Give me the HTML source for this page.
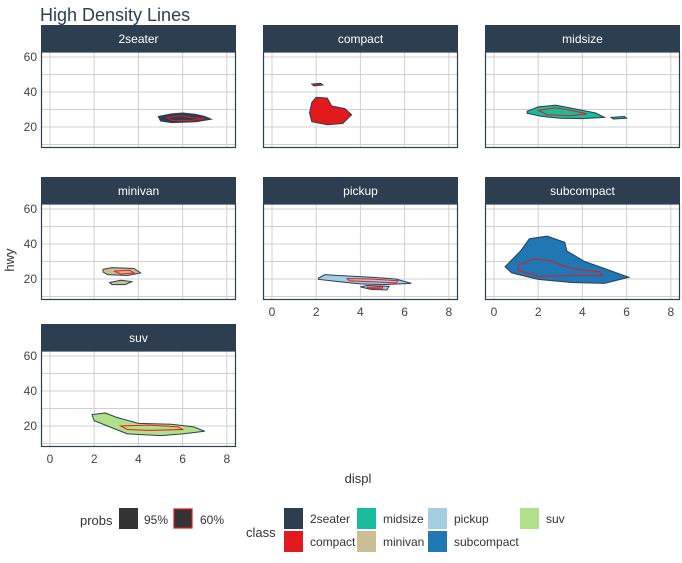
<!DOCTYPE html>
<html><head><meta charset="utf-8"><style>
body{margin:0;background:#fff;}
svg{display:block;font-family:"Liberation Sans",Arial,sans-serif;}
</style></head><body>
<svg id="chart" width="682" height="563">
<text x="40" y="21" font-size="18" fill="#2C3E50">High Density Lines</text>
<text x="358" y="483" font-size="13" fill="#333" text-anchor="middle">displ</text>
<text x="14" y="260" font-size="13" fill="#333" text-anchor="middle" transform="rotate(-90 14 260)">hwy</text>
<g id="panels"></g>
<g id="legend">
<text x="80" y="525" font-size="13" fill="#333">probs</text>
<rect x="119" y="508" width="19" height="21" fill="#333"/>
<text x="144" y="524" font-size="12" fill="#333">95%</text>
<rect x="174" y="509" width="18" height="19" fill="#333" stroke="#E31A1C" stroke-width="1.2"/>
<text x="200" y="524" font-size="12" fill="#333">60%</text>
<text x="246" y="537" font-size="13" fill="#333">class</text>
</g>
</svg>
<script>
const classes=["2seater","compact","midsize","minivan","pickup","subcompact","suv"];
const colors=["#2C3E50","#E31A1C","#18BC9C","#CCBE93","#A6CEE3","#1F78B4","#B2DF8A"];
const xTicks=[0,2,4,6,8];
const yTicks=[20,40,60];
const yMinor=[10,30,50];
// outer 95% contours (displ,hwy)
const outer95=[
 [[[4.9,26],[5.5,27.5],[6,28],[6.6,27.2],[7,26],[7.3,24.5],[6.6,23],[5.5,22.5],[5,23.5]]],
 [[[1.8,34],[2,37],[2.5,36.5],[2.7,32],[3.3,30.5],[3.6,27],[3.2,22],[2.5,21.3],[1.8,23],[1.7,28]],[[1.8,44.5],[2.2,45],[2.3,44],[1.9,43.5]]],
 [[[1.5,29],[2,31.5],[2.8,32.5],[3.6,30.5],[4.6,28],[5,25.5],[4,24.8],[3,25],[2.2,26],[1.5,27.8]],[[5.3,25.5],[5.9,26],[6,25],[5.4,24.6]]],
 [[[2.4,25.5],[2.8,26.5],[3.8,26],[4.1,23.5],[3.5,22],[2.6,22.5],[2.4,24]],[[2.7,18],[3.2,19.3],[3.7,18.5],[3.4,16.8],[2.8,16.8]]],
 [[[2.1,20.5],[2.4,22.5],[3,22],[4.5,21],[5.6,20],[6.3,17.5],[5,16.8],[4,17.2],[3,18.5],[2.1,19.8]],[[4,15.5],[4.5,14],[5.2,13.8],[5.3,15.8],[4.3,16.3]]],
 [[[0.5,27],[1.2,36],[1.6,43],[2.4,44.5],[3.2,41],[3.3,36],[4.1,30],[5,26],[6.1,21],[5,17.5],[3.5,18],[2,19.8],[0.8,23.5]]],
 [[[1.9,26.5],[2.5,27.5],[3,25],[4,21.5],[5.5,21],[6.5,19.5],[7,17],[6,15.5],[5,14.5],[3.5,15.5],[2.8,19],[2,23]]]
];
const inner60=[
 [[[5.3,25.5],[5.9,26.5],[6.5,25.2],[7,24.8],[6.4,23.7],[5.5,23.7]]],
 [],
 [[[2,29.5],[2.8,31],[3.5,29.5],[4.2,27.5],[3.5,26.5],[2.4,27]]],
 [[[2.9,24.5],[3.6,25],[3.8,23.5],[3.2,22.8]]],
 [[[3.4,20.2],[4.5,20],[5.7,19],[5.6,17.8],[4.5,18.4],[3.5,19]],[[4.3,15.2],[5,15.5],[5,14.7],[4.4,14.6]]],
 [[[1.1,28],[1.8,31.5],[2.5,30.5],[3.5,26],[4.8,24],[4.9,22],[3.5,22],[2,21.5],[1.1,25]]],
 [[[3.2,20],[4.5,20.5],[5.8,19.5],[6,18],[4.5,17.5],[3.5,18]]]
];
const NS="http://www.w3.org/2000/svg";
const pos=[[41,25],[263,25],[485,25],[41,177],[263,177],[485,177],[41,324]];
const W=195,SH=27,PH=96;
const showX=[false,false,false,false,true,true,true];
const showY=[true,false,false,true,false,false,true];
const g=document.getElementById('panels');
function mk(tag,attrs,parent){const e=document.createElementNS(NS,tag);for(const k in attrs)e.setAttribute(k,attrs[k]);parent.appendChild(e);return e;}
classes.forEach((c,i)=>{
 const [px,py]=pos[i];const top=py+SH;
 const sx=v=>px+9+(v)*22.1;
 const sy=v=>top+5+(60-v)*1.75;
 const pg=mk('g',{},g);
 
 
 const strip=mk('rect',{x:px,y:py,width:W,height:SH,fill:'#2C3E50'},pg);
 
 
 const st=mk('text',{x:px+W/2,y:py+18,'font-size':12,fill:'#fff','text-anchor':'middle'},pg);
 st.textContent=c;
 
 
 yMinor.concat(yTicks).forEach(v=>{const l=mk('line',{x1:px,x2:px+W,y1:sy(v),y2:sy(v),stroke:'#d0d0d0','stroke-width':1},pg);
  
  });
 xTicks.forEach(v=>{const l=mk('line',{x1:sx(v),x2:sx(v),y1:top,y2:top+PH,stroke:'#d0d0d0','stroke-width':1},pg);
  
  });
 outer95[i].forEach(poly=>{const p=mk('polygon',{points:poly.map(q=>sx(q[0])+','+sy(q[1])).join(' '),fill:colors[i],stroke:'#2C3E50','stroke-width':1},pg);
  
  });
 inner60[i].forEach(poly=>{const p=mk('polygon',{points:poly.map(q=>sx(q[0])+','+sy(q[1])).join(' '),fill:'none',stroke:'#E31A1C','stroke-width':1},pg);
  
  });
 const b=mk('rect',{x:px+0.5,y:top,width:W-1,height:PH-0.5,fill:'none',stroke:'#2C3E50','stroke-width':1.2},pg);
 
 
 if(showY[i]) yTicks.forEach(v=>{const t=mk('text',{x:px-4,y:sy(v)+4,'font-size':12,fill:'#444','text-anchor':'end'},pg);t.textContent=v;
  
  });
 if(showX[i]) xTicks.forEach(v=>{const t=mk('text',{x:sx(v),y:top+PH+16,'font-size':12,fill:'#444','text-anchor':'middle'},pg);t.textContent=v;
  
  });
});
const lg=document.getElementById('legend');
const lpos=[[284,508],[284,531],[357,508],[357,531],[428,508],[428,531],[520,508]];
const lab=[310,310,383,383,454,454,546];
classes.forEach((c,i)=>{
 const r=mk('rect',{x:lpos[i][0],y:lpos[i][1],width:19,height:21,fill:colors[i]},lg);
 
 
 const t=mk('text',{x:lab[i],y:lpos[i][1]+15,'font-size':12,fill:'#333'},lg);t.textContent=c;
 
 
});
</script>
</body></html>
